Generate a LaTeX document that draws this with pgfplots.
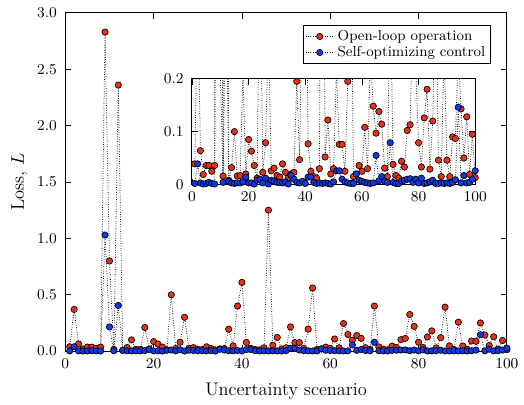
\documentclass[border=0pt]{standalone}
\usepackage{pgfplots}
\pgfplotsset{compat=1.18}
\usepackage{pgfplotstable}
\definecolor{olred}{RGB}{236,48,22}
\definecolor{soblue}{RGB}{16,56,236}
\pgfplotstableread{
x red blue
1 0.039 0.002
2 0.37 0.039
3 0.064 0.003
4 0.019 0.001
5 0.036 0.002
6 0.036 0.004
7 0.025 0.002
8 0.036 0.001
9 2.83 1.03
10 0.80 0.215
11 0.016 0.004
12 2.36 0.405
13 0.008 0.006
14 0.032 0.003
15 0.10 0.002
16 0.016 0.003
17 0.017 0.003
18 0.21 0.005
19 0.02 0.014
20 0.085 0.003
21 0.063 0.003
22 0.036 0.001
23 0.012 0.008
24 0.50 0.010
25 0.023 0.003
26 0.079 0.012
27 0.30 0.001
28 0.026 0.008
29 0.031 0.006
30 0.017 0.004
31 0.014 0.004
32 0.039 0.003
33 0.023 0.005
34 0.012 0.001
35 0.02 0.017
36 0.023 0.010
37 0.195 0.004
38 0.047 0.003
39 0.40 0.006
40 0.61 0.002
41 0.077 0.014
42 0.025 0.014
43 0.015 0.004
44 0.012 0.002
45 0.03 0.003
46 1.25 0.002
47 0.052 0.003
48 0.122 0.002
49 0.02 0.001
50 0.03 0.005
51 0.215 0.026
52 0.076 0.026
53 0.076 0.01
54 0.025 0.005
55 0.195 0.003
56 0.56 0.002
57 0.015 0.002
58 0.02 0.02
59 0.036 0.008
60 0.025 0.006
61 0.108 0.004
62 0.030 0.003
63 0.245 0.002
64 0.148 0.003
65 0.097 0.055
66 0.138 0.007
67 0.114 0.015
68 0.031 0.006
69 0.015 0.004
70 0.40 0.079
71 0.038 0.004
72 0.017 0.002
73 0.012 0.002
74 0.044 0.007
75 0.033 0.008
76 0.102 0.01
77 0.113 0.011
78 0.325 0.004
79 0.22 0.01
80 0.079 0.003
81 0.033 0.012
82 0.126 0.002
83 0.18 0.003
84 0.029 0.005
85 0.12 0.008
86 0.39 0.002
87 0.046 0.002
88 0.015 0.003
89 0.257 0.002
90 0.046 0.003
91 0.015 0.002
92 0.09 0.004
93 0.087 0.009
94 0.25 0.146
95 0.143 0.003
96 0.05 0.017
97 0.128 0.003
98 0.019 0.004
99 0.095 0.01
100 0.013 0.026
}\losstable
\begin{document}
\begin{tikzpicture}
\pgfplotsset{
  every axis/.append style={
    tick pos=both,
    tick align=inside,
    major tick length=3.5pt,
    axis line style={black, line width=0.6pt},
    every tick/.style={black, line width=0.5pt},
    tick label style={font=\fontsize{9.5}{11}\selectfont},
    xticklabel style={yshift=-1pt},
    yticklabel style={xshift=-1.5pt},
  },
  redstyle/.style={black, densely dotted, line width=0.45pt, mark=*, mark size=1.9pt,
    mark options={solid, fill=olred, draw=black, line width=0.4pt}},
  bluestyle/.style={black, densely dotted, line width=0.45pt, mark=*, mark size=1.9pt,
    mark options={solid, fill=soblue, draw=black, line width=0.4pt}},
}
\begin{axis}[
  name=main,
  at={(0,0)}, anchor=south west,
  width=265pt, height=203pt, scale only axis,
  xmin=0, xmax=100, ymin=0, ymax=3.0,
  xtick={0,20,40,60,80,100},
  ytick={0,0.5,1.0,1.5,2.0,2.5,3.0},
  yticklabel style={/pgf/number format/.cd, fixed, fixed zerofill, precision=1},
  xlabel={Uncertainty scenario},
  ylabel={Loss, $L$},
  label style={font=\fontsize{11}{13}\selectfont},
  xlabel style={yshift=-2pt},
  ylabel style={yshift=-1pt},
  legend style={at={(0.963,0.965)}, anchor=north east, draw=black, line width=0.5pt,
    font=\fontsize{8.7}{10}\selectfont, inner sep=1pt, row sep=-2pt, cells={anchor=west}},
  legend cell align=left,
  clip=true,
]
\addplot[redstyle] table[x=x, y=red] {\losstable};
\addlegendentry{Open-loop operation}
\addplot[bluestyle] table[x=x, y=blue] {\losstable};
\addlegendentry{Self-optimizing control}
\end{axis}
\begin{axis}[
  at={(76pt,100pt)}, anchor=south west,
  width=170pt, height=63.5pt, scale only axis,
  xmin=0, xmax=100, ymin=0, ymax=0.2,
  xtick={0,20,40,60,80,100},
  ytick={0,0.1,0.2},
  axis background/.style={fill=white},
  clip=true,
]
\addplot[redstyle] table[x=x, y=red] {\losstable};
\addplot[bluestyle] table[x=x, y=blue] {\losstable};
\end{axis}
\path ([xshift=-3.5pt]current bounding box.west) ([yshift=1.5pt]current bounding box.north);
\end{tikzpicture}
\end{document}
